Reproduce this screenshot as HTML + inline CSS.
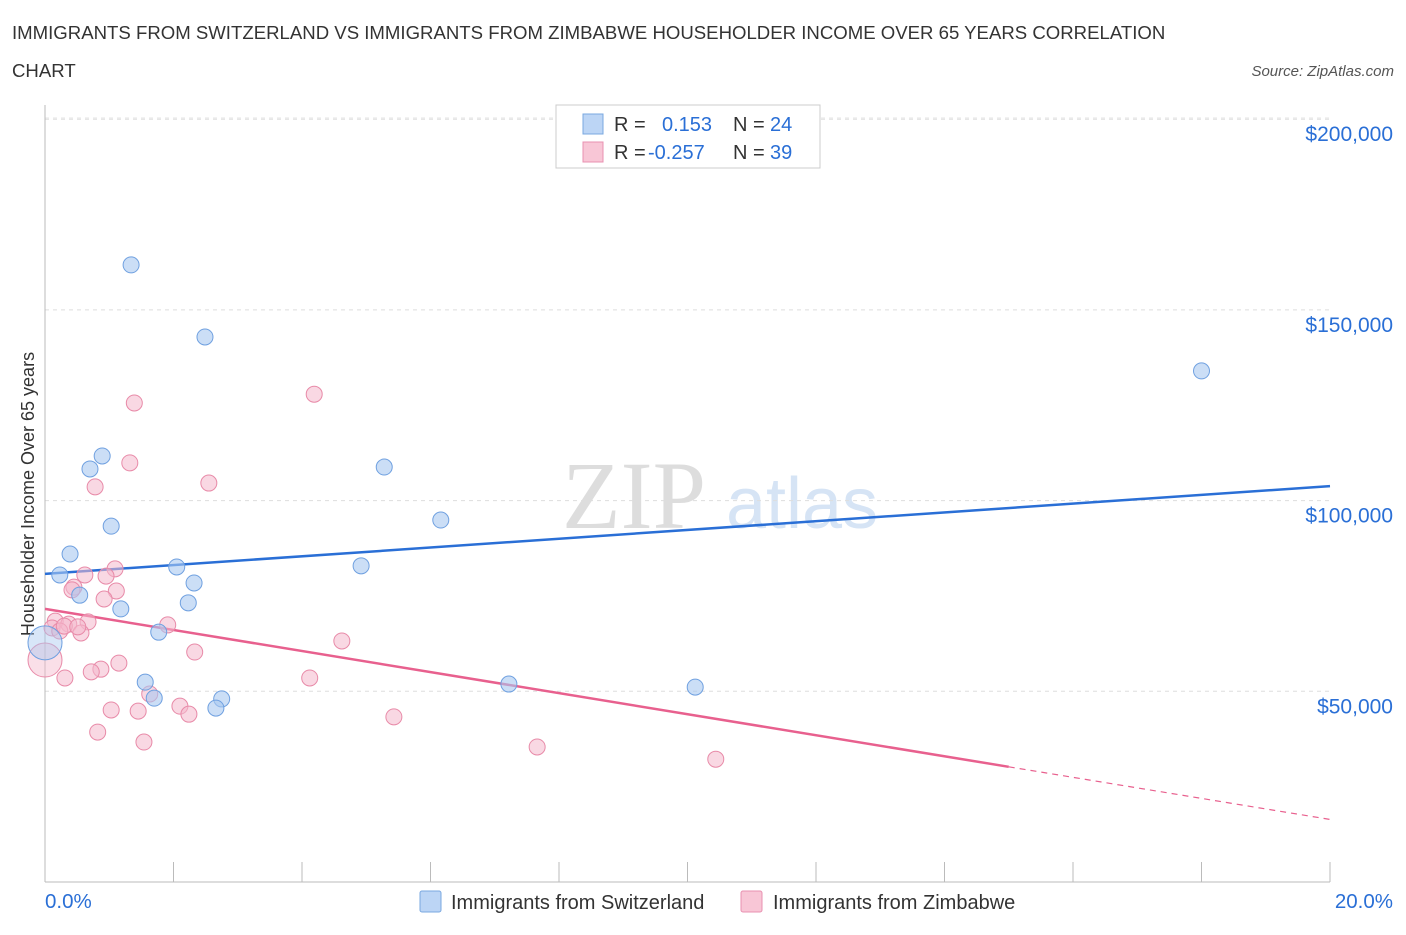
<!DOCTYPE html>
<html><head><meta charset="utf-8">
<style>
body{margin:0;background:#fff;font-family:"Liberation Sans",sans-serif;}
svg text{font-family:"Liberation Sans",sans-serif;}
</style></head>
<body>
<svg id="chart" width="1406" height="930" xmlns="http://www.w3.org/2000/svg">
<text x="12" y="39" font-size="18.6" fill="#333">IMMIGRANTS FROM SWITZERLAND VS IMMIGRANTS FROM ZIMBABWE HOUSEHOLDER INCOME OVER 65 YEARS CORRELATION</text>
<text x="12" y="77" font-size="18.6" fill="#333">CHART</text>
<text x="1394" y="76" font-size="15" fill="#555" font-style="italic" text-anchor="end">Source: ZipAtlas.com</text>
<text x="0" y="0" transform="translate(34,494) rotate(-90)" font-size="18" fill="#333" text-anchor="middle">Householder Income Over 65 years</text>
<text x="634" y="528" font-size="96" fill="#ddd" text-anchor="middle" style="font-family:'Liberation Serif',serif">ZIP</text>
<text x="802" y="528" font-size="72" fill="#d6e4f5" text-anchor="middle">atlas</text>
<g id="grid"></g>
<g id="axes"></g>
<g id="lines"></g>
<g id="points"></g>
<g>
<rect x="556" y="105" width="264" height="63" fill="#fff" stroke="#ccc"/>
<rect x="583" y="114" width="20" height="20" fill="#bcd5f5" stroke="#7aa8e0"/>
<text x="614" y="131" font-size="20" fill="#333">R = </text><text x="662" y="131" font-size="20" fill="#2a6fd6">0.153</text>
<text x="733" y="131" font-size="20" fill="#333">N = </text><text x="770" y="131" font-size="20" fill="#2a6fd6">24</text>
<rect x="583" y="142" width="20" height="20" fill="#f8c6d6" stroke="#e890b0"/>
<text x="614" y="159" font-size="20" fill="#333">R = </text><text x="648" y="159" font-size="20" fill="#2a6fd6">-0.257</text>
<text x="733" y="159" font-size="20" fill="#333">N = </text><text x="770" y="159" font-size="20" fill="#2a6fd6">39</text>
</g>
<g>
<rect x="420" y="891" width="21" height="21" fill="#bcd5f5" stroke="#7aa8e0" rx="2"/>
<text x="451" y="909" font-size="20" fill="#333">Immigrants from Switzerland</text>
<rect x="741" y="891" width="21" height="21" fill="#f8c6d6" stroke="#e890b0" rx="2"/>
<text x="773" y="909" font-size="20" fill="#333">Immigrants from Zimbabwe</text>
</g>
</svg>
<script>
const yTicks=[50000,100000,150000,200000];
const yTickLabels=["$50,000","$100,000","$150,000","$200,000"];
const xTickVals=[0,2,4,6,8,10,12,14,16,18,20];
const swissX=[1.34,2.49,18.0,0.89,0.70,5.28,6.16,1.03,0.39,0.23,2.05,4.92,2.32,0.54,2.23,1.18,1.77,0,1.56,7.22,10.12,1.70,2.75,2.66];
const swissY=[161800,142900,134000,111700,108300,108800,94900,93300,86000,80500,82600,82900,78400,75200,73200,71600,65500,62700,52400,51900,51100,48200,48000,45600];
const zimX=[1.39,4.19,1.32,2.55,0.78,1.09,0.62,0.95,0.45,1.11,0.92,1.91,0.67,0.16,0.37,0.11,0.23,0.56,4.62,2.33,0,1.15,0.87,0.72,0.31,4.12,1.63,2.10,1.03,1.45,2.24,5.43,0.82,1.54,7.66,10.44,0.42,0.30,0.51];
const zimY=[125600,127900,109900,104600,103600,82100,80500,80200,77300,76300,74200,67400,68200,68400,67600,66600,65800,65300,63200,60300,58200,57400,55800,55100,53500,53500,49300,46100,45100,44800,44000,43300,39300,36700,35400,32200,76600,67100,66900];
const swissTrend=[80800,1150];
const zimTrend=[71600,-2760];
const xs=p=>45+p*64.25, ys=v=>882-v*190.7/50000;
const NS="http://www.w3.org/2000/svg";
function mk(t,a,parent){const e=document.createElementNS(NS,t);for(const k in a)e.setAttribute(k,a[k]);document.getElementById(parent).appendChild(e);return e;}
yTicks.forEach((v,i)=>{
 const g=mk('line',{x1:45,x2:1330,y1:ys(v),y2:ys(v),stroke:'#ddd','stroke-dasharray':'4 4'},'grid');
 
 
 const t=mk('text',{x:1393,y:ys(v)+22,'font-size':21,fill:'#2a6fd6','text-anchor':'end'},'axes');
 t.textContent=yTickLabels[i];
 
 
});
const topGrid=mk('line',{x1:45,x2:1330,y1:118,y2:118,stroke:'#e6e6e6','stroke-dasharray':'4 4'},'grid');


const ya=mk('line',{x1:45,x2:45,y1:105,y2:882,stroke:'#bbb'},'axes');


const xa=mk('line',{x1:45,x2:1330,y1:882,y2:882,stroke:'#bbb'},'axes');


xTickVals.forEach(p=>{const l=mk('line',{x1:xs(p),x2:xs(p),y1:862,y2:882,stroke:'#bbb'},'axes');
 
 });
const xl0=mk('text',{x:45,y:908,'font-size':20.5,fill:'#2a6fd6'},'axes');xl0.textContent='0.0%';


const xl1=mk('text',{x:1393,y:908,'font-size':20.5,fill:'#2a6fd6','text-anchor':'end'},'axes');xl1.textContent='20.0%';


zimX.forEach((x,i)=>{const big=x===0;const c=mk('circle',{cx:xs(x),cy:ys(zimY[i]),r:big?17:8,fill:'#f4b8cc','fill-opacity':big?0.45:0.55,stroke:'#e88aa8','stroke-width':1},'points');
 
 });
swissX.forEach((x,i)=>{const big=x===0;const c=mk('circle',{cx:xs(x),cy:ys(swissY[i]),r:big?17:8,fill:'#a8c8f0','fill-opacity':big?0.45:0.6,stroke:'#6fa0e0','stroke-width':1},'points');
 
 });
const bl=mk('line',{x1:xs(0),y1:ys(swissTrend[0]),x2:xs(20),y2:ys(swissTrend[0]+20*swissTrend[1]),stroke:'#2a6fd6','stroke-width':2.5},'lines');


const pl=mk('line',{x1:xs(0),y1:ys(zimTrend[0]),x2:xs(15),y2:ys(zimTrend[0]+15*zimTrend[1]),stroke:'#e8608e','stroke-width':2.5},'lines');


const pd=mk('line',{x1:xs(15),y1:ys(zimTrend[0]+15*zimTrend[1]),x2:xs(20),y2:ys(zimTrend[0]+20*zimTrend[1]),stroke:'#e8608e','stroke-width':1.2,'stroke-dasharray':'6 5'},'lines');


</script>
</body></html>
